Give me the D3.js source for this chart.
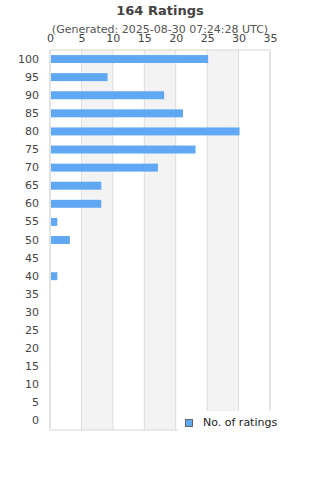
<!DOCTYPE html>
<html>
<head>
<meta charset="utf-8">
<script src="https://cdn.jsdelivr.net/npm/d3@7"></script>
<style>
  body { margin: 0; background: #fff; }
  svg { font-family: "DejaVu Sans", sans-serif; }
</style>
</head>
<body>
<div class="main"></div>
<script>
const scores = [100, 95, 90, 85, 80, 75, 70, 65, 60, 55, 50, 45, 40, 35, 30, 25, 20, 15, 10, 5, 0];
const counts = [25, 9, 18, 21, 30, 23, 17, 8, 8, 1, 3, 0, 1, 0, 0, 0, 0, 0, 0, 0, 0];
const xTicks = [0, 5, 10, 15, 20, 25, 30, 35];
const title = "164 Ratings";
const subtitle = "(Generated: 2025-08-30 07:24:28 UTC)";
const seriesName = "No. of ratings";

const w = 320, h = 480;
const plotL = 50, plotR = 270, plotT = 50, plotB = 430;

const svg = d3.select(".main").append("svg")
  .attr("width", w)
  .attr("height", h);

const xScale = d3.scaleLinear().domain([0, 35]).range([plotL, plotR]);
const yScale = d3.scaleBand().domain(scores).range([plotT, plotB]).paddingInner(0.56).paddingOuter(0.28);

// alternating bands
const bands = d3.pairs(xTicks).filter((d, i) => i % 2 == 1);
svg.selectAll("rect.band")
  .data(bands)
  .enter()
  .append("rect")
  .attr("class", "band")
  .attr("x", d => xScale(d[0]))
  .attr("y", plotT)
  .attr("width", d => xScale(d[1]) - xScale(d[0]))
  .attr("height", plotB - plotT)
  .attr("fill", "#f3f3f3");

// grid lines
svg.selectAll("line.grid")
  .data(xTicks)
  .enter()
  .append("line")
  .attr("class", "grid")
  .attr("x1", d => xScale(d))
  .attr("x2", d => xScale(d))
  .attr("y1", plotT)
  .attr("y2", plotB)
  .attr("stroke", "#ddd")
  .attr("stroke-width", 1);

svg.append("rect")
  .attr("x", plotL)
  .attr("y", plotT)
  .attr("width", plotR - plotL)
  .attr("height", plotB - plotT)
  .attr("fill", "none")
  .attr("stroke", "#ddd")
  .attr("stroke-width", 1.2);

// bars
svg.selectAll("rect.bar")
  .data(scores.map((s, i) => ({ s: s, c: counts[i] })))
  .enter()
  .append("rect")
  .attr("class", "bar")
  .attr("x", xScale(0) + 1)
  .attr("y", d => yScale(d.s))
  .attr("width", d => Math.max(0, xScale(d.c) - xScale(0)))
  .attr("height", yScale.bandwidth())
  .attr("fill", "#60a8f4");

// axes
const xAxis = d3.axisTop(xScale).tickValues(xTicks).tickSize(0).tickPadding(8);
const gx = svg.append("g")
  .attr("transform", "translate(0," + plotT + ")")
  .call(xAxis);

const yAxis = d3.axisLeft(yScale).tickSize(0).tickPadding(11);
const gy = svg.append("g")
  .attr("transform", "translate(" + plotL + ",0)")
  .call(yAxis);

[gx, gy].forEach(g => {
  g.select(".domain").remove();
  g.selectAll("text")
    .attr("font-family", "DejaVu Sans, sans-serif")
    .attr("font-size", "11px")
    .attr("fill", "#444");
});

// titles
svg.append("text")
  .attr("x", 160)
  .attr("y", 15)
  .attr("text-anchor", "middle")
  .attr("font-size", "13px")
  .attr("font-weight", "bold")
  .attr("fill", "#444")
  .text(title);

svg.append("text")
  .attr("x", 160)
  .attr("y", 33)
  .attr("text-anchor", "middle")
  .attr("font-size", "11px")
  .attr("fill", "#555")
  .text(subtitle);

// legend
svg.append("rect")
  .attr("x", 178)
  .attr("y", 411)
  .attr("width", 120)
  .attr("height", 24)
  .attr("fill", "#fff");

svg.append("rect")
  .attr("x", 185.5)
  .attr("y", 419.5)
  .attr("width", 7)
  .attr("height", 7)
  .attr("fill", "#60a8f4")
  .attr("stroke", "#666")
  .attr("stroke-width", 1);

svg.append("text")
  .attr("x", 203)
  .attr("y", 426)
  .attr("font-size", "11px")
  .attr("fill", "#222")
  .text(seriesName);
</script>
</body>
</html>
